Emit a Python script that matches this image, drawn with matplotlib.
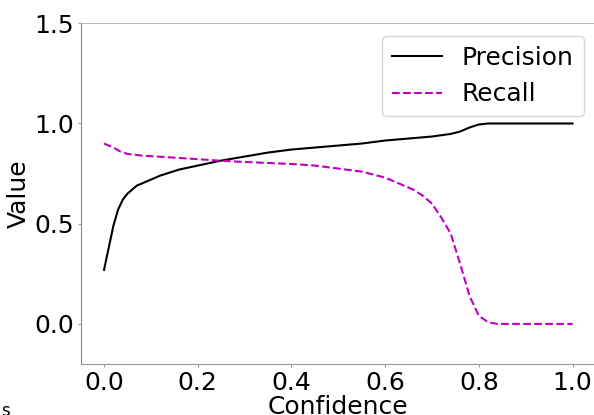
import numpy as np
import matplotlib.pyplot as plt

# Curve values
prec_x = [0, 0.01, 0.02, 0.03, 0.04, 0.05, 0.07, 0.09, 0.12, 0.16, 0.2, 0.25, 0.3, 0.35,
          0.4, 0.45, 0.5, 0.55, 0.6, 0.65, 0.7, 0.74, 0.76, 0.78, 0.8, 0.82, 0.85, 0.9, 0.95, 1.0]
prec_y = [0.27, 0.38, 0.49, 0.57, 0.62, 0.65, 0.69, 0.71, 0.74, 0.77, 0.79, 0.815, 0.835, 0.855,
          0.87, 0.88, 0.89, 0.90, 0.915, 0.925, 0.935, 0.948, 0.96, 0.98, 0.995, 1.0, 1.0, 1.0, 1.0, 1.0]

rec_x = [0, 0.02, 0.035, 0.05, 0.08, 0.12, 0.2, 0.25, 0.3, 0.35, 0.4, 0.45, 0.5, 0.55, 0.6,
         0.63, 0.66, 0.68, 0.7, 0.72, 0.74, 0.76, 0.78, 0.8, 0.82, 0.84, 0.9, 0.95, 1.0]
rec_y = [0.90, 0.88, 0.86, 0.848, 0.84, 0.834, 0.822, 0.814, 0.808, 0.803, 0.798, 0.79, 0.775, 0.76, 0.73,
         0.70, 0.67, 0.64, 0.60, 0.53, 0.45, 0.30, 0.14, 0.04, 0.008, 0.0, 0.0, 0.0, 0.0]

fig = plt.figure(figsize=(5.94, 4.15), dpi=100)
ax = fig.add_axes([0.1357, 0.1229, 0.8677, 0.821])

ax.plot(prec_x, prec_y, 'k-', lw=1.5, label='Precision')
ax.plot(rec_x, rec_y, 'm--', lw=1.5, label='Recall')

ax.set_xlim(-0.05, 1.05)
ax.set_ylim(-0.2, 1.5)
ax.set_xticks([0.0, 0.2, 0.4, 0.6, 0.8, 1.0])
ax.set_yticks([0.0, 0.5, 1.0, 1.5])
ax.tick_params(labelsize=18, length=2, pad=3, color='#999999')
ax.set_xlabel('Confidence', fontsize=18, labelpad=0)
ax.set_ylabel('Value', fontsize=18, labelpad=2)

ax.spines['left'].set_color('#888888')
ax.spines['bottom'].set_color('#999999')
ax.spines['top'].set_color('#bbbbbb')
ax.spines['right'].set_visible(False)

ax.legend(fontsize=18, loc='upper right')

fig.text(0.002, -0.012, 's', fontsize=12, va='bottom', ha='left')

fig.savefig('out.png', dpi=100)
